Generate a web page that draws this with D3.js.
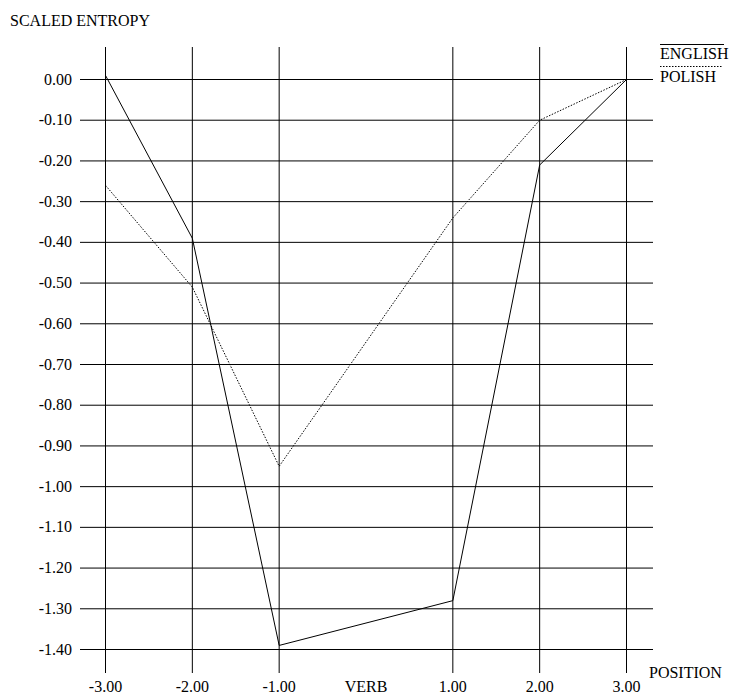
<!DOCTYPE html>
<html>
<head>
<meta charset="utf-8">
<script src="https://cdn.jsdelivr.net/npm/d3@7"></script>
<style>
  body { margin: 0; background: #fff; }
  text { font-family: "Liberation Serif", "Times New Roman", serif; font-size: 16px; fill: #000; }
</style>
</head>
<body>
<svg id="chart" width="729" height="696"></svg>
<script>
// Data
const positions = [-3, -2, -1, 1, 2, 3];
const english = [0.01, -0.39, -1.39, -1.28, -0.21, 0.00];
const polish = [-0.26, -0.51, -0.95, -0.34, -0.10, 0.00];
const xTicks = [-3, -2, -1, 0, 1, 2, 3];
const xTickLabels = ['-3.00', '-2.00', '-1.00', 'VERB', '1.00', '2.00', '3.00'];
const yTicks = d3.range(0, 15).map(i => -i / 10);

const svg = d3.select('#chart');

const x = d3.scaleLinear().domain([-3, 3]).range([105.5, 626.5]);
const y = d3.scaleLinear().domain([0, -1.4]).range([79.5, 649.5]);

// horizontal grid
svg.append('g').selectAll('line')
  .data(yTicks)
  .enter().append('line')
  .attr('x1', 80).attr('x2', 653)
  .attr('y1', d => y(d)).attr('y2', d => y(d))
  .attr('stroke', '#000').attr('stroke-width', 1);

// vertical grid (no line at VERB)
svg.append('g').selectAll('line')
  .data(xTicks.filter(d => d !== 0))
  .enter().append('line')
  .attr('x1', d => x(d)).attr('x2', d => x(d))
  .attr('y1', 47).attr('y2', 673)
  .attr('stroke', '#000').attr('stroke-width', 1);

// y tick labels
svg.append('g').selectAll('text')
  .data(yTicks)
  .enter().append('text')
  .attr('x', 72).attr('y', d => y(d) + 5)
  .attr('text-anchor', 'end')
  .text(d => d.toFixed(2));

// x tick labels
svg.append('g').selectAll('text')
  .data(xTicks)
  .enter().append('text')
  .attr('x', d => x(d)).attr('y', 692)
  .attr('text-anchor', 'middle')
  .text((d, i) => xTickLabels[i]);

// axis titles
svg.append('text').attr('x', 10).attr('y', 26).text('SCALED ENTROPY');
svg.append('text').attr('x', 649).attr('y', 678).text('POSITION');

// series
const line = d3.line()
  .x(d => x(d[0]))
  .y(d => y(d[1]));

svg.append('path')
  .datum(d3.zip(positions, english))
  .attr('d', line)
  .attr('fill', 'none').attr('stroke', '#000').attr('stroke-width', 1);

svg.append('path')
  .datum(d3.zip(positions, polish))
  .attr('d', line)
  .attr('fill', 'none').attr('stroke', '#000').attr('stroke-width', 1)
  .attr('stroke-dasharray', '1.5,1.5');

// legend
svg.append('line').attr('x1', 660).attr('x2', 724).attr('y1', 44.5).attr('y2', 44.5)
  .attr('stroke', '#000');
svg.append('text').attr('x', 660).attr('y', 58.5).text('ENGLISH');
svg.append('line').attr('x1', 660).attr('x2', 722).attr('y1', 66.5).attr('y2', 66.5)
  .attr('stroke', '#000').attr('stroke-dasharray', '1.5,1.5');
svg.append('text').attr('x', 660).attr('y', 81.5).text('POLISH');
</script>
</body>
</html>
